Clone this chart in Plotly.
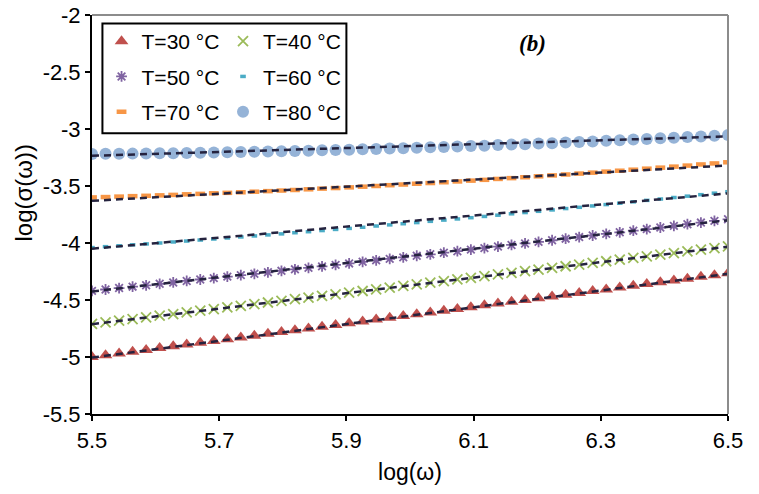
import plotly.graph_objects as go

# ---------------- data ----------------
log_omega = [5.5, 5.5213, 5.5426, 5.5638, 5.5851, 5.6064, 5.6277, 5.6489, 5.6702, 5.6915,
             5.7128, 5.734, 5.7553, 5.7766, 5.7979, 5.8191, 5.8404, 5.8617, 5.883, 5.9043,
             5.9255, 5.9468, 5.9681, 5.9894, 6.0106, 6.0319, 6.0532, 6.0745, 6.0957, 6.117,
             6.1383, 6.1596, 6.1809, 6.2021, 6.2234, 6.2447, 6.266, 6.2872, 6.3085, 6.3298,
             6.3511, 6.3723, 6.3936, 6.4149, 6.4362, 6.4574, 6.4787, 6.5]

sigma_30 = [-5.000, -4.984, -4.969, -4.953, -4.938, -4.922, -4.906, -4.891, -4.875, -4.859,
            -4.844, -4.828, -4.813, -4.797, -4.781, -4.766, -4.750, -4.735, -4.719, -4.703,
            -4.688, -4.672, -4.656, -4.641, -4.625, -4.610, -4.594, -4.578, -4.563, -4.547,
            -4.531, -4.516, -4.500, -4.485, -4.469, -4.453, -4.438, -4.422, -4.407, -4.391,
            -4.375, -4.360, -4.344, -4.328, -4.313, -4.297, -4.282, -4.266]

sigma_40 = [-4.710, -4.696, -4.681, -4.667, -4.652, -4.638, -4.623, -4.609, -4.594, -4.580,
            -4.565, -4.551, -4.536, -4.522, -4.507, -4.493, -4.479, -4.464, -4.450, -4.435,
            -4.421, -4.406, -4.392, -4.377, -4.363, -4.348, -4.334, -4.319, -4.305, -4.290,
            -4.276, -4.262, -4.247, -4.233, -4.218, -4.204, -4.189, -4.175, -4.160, -4.146,
            -4.131, -4.117, -4.102, -4.088, -4.073, -4.059, -4.044, -4.030]

sigma_50 = [-4.420, -4.408, -4.395, -4.383, -4.371, -4.358, -4.346, -4.333, -4.320, -4.308,
            -4.295, -4.282, -4.270, -4.257, -4.244, -4.231, -4.218, -4.205, -4.192, -4.179,
            -4.165, -4.152, -4.139, -4.126, -4.112, -4.099, -4.085, -4.072, -4.058, -4.045,
            -4.031, -4.017, -4.004, -3.990, -3.976, -3.962, -3.948, -3.934, -3.920, -3.906,
            -3.892, -3.878, -3.864, -3.850, -3.835, -3.821, -3.806, -3.792]

sigma_60 = [-4.040, -4.032, -4.024, -4.016, -4.008, -4.000, -3.991, -3.983, -3.974, -3.965,
            -3.956, -3.947, -3.938, -3.929, -3.920, -3.910, -3.901, -3.891, -3.881, -3.872,
            -3.862, -3.851, -3.841, -3.831, -3.821, -3.810, -3.799, -3.789, -3.778, -3.767,
            -3.756, -3.744, -3.733, -3.722, -3.710, -3.698, -3.687, -3.675, -3.663, -3.651,
            -3.639, -3.626, -3.614, -3.601, -3.589, -3.576, -3.563, -3.550]

sigma_70 = [-3.600, -3.597, -3.593, -3.589, -3.586, -3.582, -3.578, -3.573, -3.569, -3.564,
            -3.560, -3.555, -3.550, -3.545, -3.540, -3.535, -3.529, -3.523, -3.518, -3.512,
            -3.506, -3.500, -3.493, -3.487, -3.480, -3.474, -3.467, -3.460, -3.453, -3.446,
            -3.438, -3.431, -3.423, -3.415, -3.407, -3.399, -3.391, -3.383, -3.374, -3.366,
            -3.357, -3.348, -3.339, -3.330, -3.321, -3.311, -3.302, -3.292]

sigma_80 = [-3.219, -3.218, -3.217, -3.216, -3.214, -3.213, -3.212, -3.210, -3.208, -3.206,
            -3.204, -3.202, -3.200, -3.198, -3.195, -3.193, -3.190, -3.187, -3.184, -3.182,
            -3.178, -3.175, -3.172, -3.168, -3.165, -3.161, -3.158, -3.154, -3.150, -3.146,
            -3.141, -3.137, -3.133, -3.128, -3.124, -3.119, -3.114, -3.109, -3.104, -3.099,
            -3.093, -3.088, -3.082, -3.077, -3.071, -3.065, -3.059, -3.053]

series_names = ["T=30 °C", "T=40 °C", "T=50 °C", "T=60 °C", "T=70 °C", "T=80 °C"]

# linear fit lines: value at log(ω)=5.5 and at log(ω)=6.5
fit_start = [-5.005, -4.712, -4.425, -4.050, -3.630, -3.235]
fit_end = [-4.270, -4.032, -3.800, -3.565, -3.320, -3.065]

x_tick_vals = [5.5, 5.7, 5.9, 6.1, 6.3, 6.5]
x_tick_text = ["5.5", "5.7", "5.9", "6.1", "6.3", "6.5"]
y_tick_vals = [-5.5, -5, -4.5, -4, -3.5, -3, -2.5, -2]
y_tick_text = ["-5.5", "-5", "-4.5", "-4", "-3.5", "-3", "-2.5", "-2"]

# ---------------- styling ----------------
all_sigma = [sigma_30, sigma_40, sigma_50, sigma_60, sigma_70, sigma_80]
markers = [
    dict(symbol="triangle-up", size=12, color="#C0504D"),
    dict(symbol="x-thin-open", size=10, color="#9BBB59", line=dict(width=1.8, color="#9BBB59")),
    dict(symbol="asterisk-open", size=9, color="#8064A2", line=dict(width=1.8, color="#8064A2")),
    dict(symbol="line-ew-open", size=4, color="#4BACC6", line=dict(width=3.5, color="#4BACC6")),
    dict(symbol="line-ew-open", size=7, color="#F79646", line=dict(width=4.5, color="#F79646")),
    dict(symbol="circle", size=12, color="#95B3D7"),
]
legend_ids = ["legend", "legend2", "legend", "legend2", "legend", "legend2"]

FONT = "Liberation Sans, Arial, sans-serif"

fig = go.Figure()
for k in range(6):
    fig.add_trace(go.Scatter(
        x=log_omega, y=all_sigma[k], mode="markers", name=series_names[k],
        marker=markers[k], legend=legend_ids[k], legendgroup=series_names[k],
    ))
for k in range(6):
    fig.add_trace(go.Scatter(
        x=[log_omega[0], log_omega[-1]], y=[fit_start[k], fit_end[k]], mode="lines",
        line=dict(color="#25233F", width=2.5, dash="7px,5px"), showlegend=False,
        hoverinfo="skip",
    ))

W, H = 759, 494
L, R, T, B = 92, 31, 15, 80
legend_common = dict(
    bgcolor="rgba(0,0,0,0)", borderwidth=0, font=dict(family=FONT, size=21, color="#000"),
    xanchor="left", yanchor="top", tracegroupgap=5, traceorder="grouped",
    itemwidth=30,
)
fig.update_layout(
    width=W, height=H,
    margin=dict(l=L, r=R, t=T, b=B, autoexpand=False),
    paper_bgcolor="white", plot_bgcolor="white",
    font=dict(family=FONT, size=22, color="#000"),
    showlegend=True,
    legend=dict(x=0.015, y=0.985, **legend_common),
    legend2=dict(x=0.206, y=0.985, **legend_common),
    xaxis=dict(
        range=[5.5, 6.5], tickvals=x_tick_vals, ticktext=x_tick_text, automargin=False,
        showgrid=False, zeroline=False, showline=True, linecolor="#000", linewidth=2,
        ticks="outside", ticklen=5, tickwidth=2, tickcolor="#000", ticklabelstandoff=1,
        ticklabeloverflow="allow",
        tickfont=dict(family=FONT, size=22),
        title=dict(text="log(ω)", font=dict(family=FONT, size=23), standoff=11),
    ),
    yaxis=dict(
        range=[-5.5, -2], tickvals=y_tick_vals, ticktext=y_tick_text, automargin=False,
        showgrid=False, zeroline=False, showline=True, linecolor="#000", linewidth=2,
        ticks="outside", ticklen=5, tickwidth=2, tickcolor="#000", ticklabelstandoff=0,
        ticklabeloverflow="allow",
        tickfont=dict(family=FONT, size=22),
    ),
    shapes=[
        dict(type="line", xref="paper", yref="paper", x0=0, x1=1, y0=1, y1=1,
             line=dict(color="#8C8C8C", width=2)),
        dict(type="line", xref="paper", yref="paper", x0=1, x1=1, y0=0, y1=1,
             line=dict(color="#8C8C8C", width=2)),
        dict(type="rect", xref="paper", yref="paper", x0=0.0164, x1=0.400, y0=0.7035, y1=0.979,
             line=dict(color="#000", width=2), fillcolor="rgba(0,0,0,0)"),
    ],
    annotations=[
        dict(text="<b><i>(b)</i></b>", xref="paper", yref="paper", x=0.692, y=0.928,
             xanchor="center", yanchor="middle", showarrow=False,
             font=dict(family="Liberation Serif, Times New Roman, serif", size=23, color="#000")),
        dict(text="log(σ(ω))", xref="paper", yref="paper", x=-0.107, y=0.555,
             xanchor="center", yanchor="middle", showarrow=False, textangle=-90,
             font=dict(family=FONT, size=24, color="#000")),
    ],
)

# remove the default 8 px page margin so the figure sits at the window origin
fig.write_html("out.html", config={"displayModeBar": False},
               post_script="document.body.style.margin='0';")
